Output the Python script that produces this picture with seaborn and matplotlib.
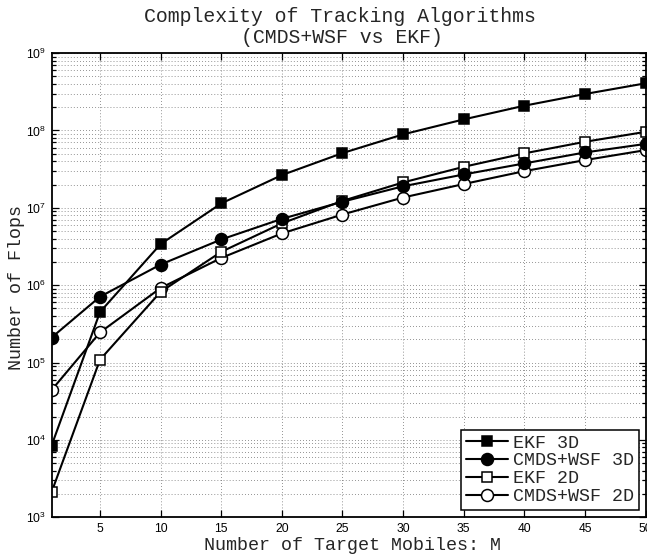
import numpy as np
import pandas as pd
import matplotlib
matplotlib.use("Agg")
import matplotlib.pyplot as plt
import matplotlib.ticker as mticker
import seaborn as sns

# Number of target mobiles and flop counts for each algorithm
M = [1, 5, 10, 15, 20, 25, 30, 35, 40, 45, 50]
ekf_3d = [8.4e3, 4.5e5, 3.4e6, 1.14e7, 2.65e7, 5.1e7, 8.9e7, 1.39e8, 2.09e8, 2.96e8, 4.07e8]
cmds_wsf_3d = [2.1e5, 7.1e5, 1.85e6, 3.9e6, 7.2e6, 1.2e7, 1.9e7, 2.7e7, 3.75e7, 5.2e7, 6.7e7]
ekf_2d = [2.1e3, 1.09e5, 8.2e5, 2.7e6, 6.3e6, 1.23e7, 2.13e7, 3.39e7, 5.06e7, 7.14e7, 9.6e7]
cmds_wsf_2d = [4.4e4, 2.45e5, 9.2e5, 2.25e6, 4.67e6, 8.2e6, 1.36e7, 2.03e7, 2.98e7, 4.14e7, 5.57e7]

series_names = ["EKF 3D", "CMDS+WSF 3D", "EKF 2D", "CMDS+WSF 2D"]
series_values = [ekf_3d, cmds_wsf_3d, ekf_2d, cmds_wsf_2d]
x_ticks = [5, 10, 15, 20, 25, 30, 35, 40, 45, 50]

sns.set_style("ticks")
plt.rcParams["font.family"] = ["Liberation Sans", "DejaVu Sans"]
plt.rcParams["mathtext.fontset"] = "custom"
plt.rcParams["mathtext.rm"] = "Liberation Sans"
plt.rcParams["mathtext.it"] = "Liberation Sans:italic"
plt.rcParams["mathtext.bf"] = "Liberation Sans:bold"

W, H = 647, 555
fig = plt.figure(figsize=(W / 100, H / 100), dpi=100)
ax_l, ax_r, ax_t, ax_b = 51.5, 645.6, 53.1, 517.3
ax = fig.add_axes([ax_l / W, 1 - ax_b / H, (ax_r - ax_l) / W, (ax_b - ax_t) / H])

styles = {
    "EKF 3D": dict(marker="s", ms=7.0, mfc="black", z=2.4),
    "CMDS+WSF 3D": dict(marker="o", ms=8.6, mfc="black", z=2.3),
    "EKF 2D": dict(marker="s", ms=7.0, mfc="white", z=2.2),
    "CMDS+WSF 2D": dict(marker="o", ms=8.6, mfc="white", z=2.1),
}

for name, vals in zip(series_names, series_values):
    df = pd.DataFrame({"M": M, "flops": vals})
    st = styles[name]
    sns.lineplot(data=df, x="M", y="flops", ax=ax, color="black", lw=1.5,
                 marker=st["marker"], markersize=st["ms"],
                 markerfacecolor=st["mfc"], markeredgecolor="black",
                 markeredgewidth=1.1, errorbar=None, label=name,
                 zorder=st["z"])

ax.set_yscale("log")
ax.set_xlim(1, 50)
ax.set_ylim(1e3, 1e9)
ax.set_xticks(x_ticks)
ax.xaxis.set_major_formatter(mticker.FormatStrFormatter("%d"))
ax.yaxis.set_major_locator(mticker.LogLocator(base=10, numticks=20))
ax.yaxis.set_minor_locator(mticker.LogLocator(base=10, subs=np.arange(2, 10), numticks=20))
ax.yaxis.set_minor_formatter(mticker.NullFormatter())
ax.yaxis.set_major_formatter(mticker.LogFormatterMathtext())

grid_kw = dict(color="#555555", linestyle=(0, (1, 3)), linewidth=0.55)
ax.grid(True, which="major", axis="both", **grid_kw)
ax.grid(True, which="minor", axis="y", **grid_kw)
ax.set_axisbelow(True)

ax.tick_params(which="both", direction="in", top=True, right=True,
               width=0.9, labelsize=8.7, colors="black")
ax.tick_params(which="major", length=5, pad=4)
ax.tick_params(which="minor", length=3)
for sp in ax.spines.values():
    sp.set_linewidth(1.3)
    sp.set_color("black")
    sp.set_visible(True)

# Axis labels are placed as figure text below
ax.set_xlabel("")
ax.set_ylabel("")
ax.xaxis.label.set_visible(False)
ax.yaxis.label.set_visible(False)

mono = ["Liberation Mono", "DejaVu Sans Mono"]
fig.text(340 / W, 1 - 21.7 / H, "Complexity of Tracking Algorithms",
         ha="center", va="baseline", family=mono, fontsize=14.3)
fig.text(342 / W, 1 - 42.7 / H, "(CMDS+WSF vs EKF)",
         ha="center", va="baseline", family=mono, fontsize=14.3)
fig.text(352 / W, 1 - 549.5 / H, "Number of Target Mobiles: M",
         ha="center", va="baseline", family=mono, fontsize=13.2)
fig.text(17 / W, 1 - 287 / H, "Number of Flops", rotation=90,
         ha="center", va="center", family=mono, fontsize=13.2)

leg = ax.legend(loc="lower right", bbox_to_anchor=(0.989, 0.016),
                borderaxespad=0, prop={"family": mono, "size": 13.2},
                frameon=True, fancybox=False, framealpha=1, edgecolor="black",
                borderpad=0.25, labelspacing=0.05, handlelength=2.3,
                handletextpad=0.3)
leg.get_frame().set_linewidth(1.1)

fig.savefig("out.png", dpi=100)
